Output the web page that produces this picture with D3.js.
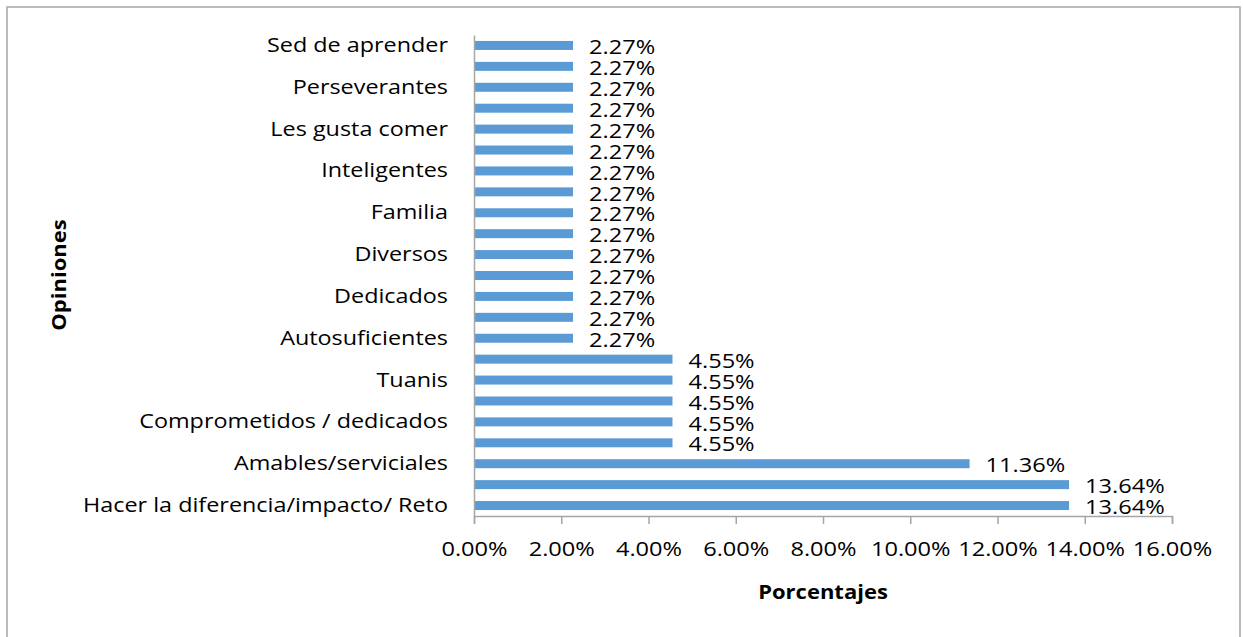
<!DOCTYPE html>
<html>
<head>
<meta charset="utf-8">
<script src="https://cdn.jsdelivr.net/npm/d3@7"></script>
<style>
  html, body { margin: 0; padding: 0; background: #fff; }
  svg { display: block; }
</style>
</head>
<body>
<svg id="chart" width="1243" height="637"></svg>
<script>
// Categories listed from the bottom bar upward; blank entries are categories
// whose axis label is skipped (every other label is shown).
const categories = [
  "Hacer la diferencia/impacto/ Reto", "", "Amables/serviciales", "",
  "Comprometidos / dedicados", "", "Tuanis", "", "Autosuficientes", "",
  "Dedicados", "", "Diversos", "", "Familia", "", "Inteligentes", "",
  "Les gusta comer", "", "Perseverantes", "", "Sed de aprender"
];
// Percentage per category (same order as above)
const values = [
  13.64, 13.64, 11.36, 4.55, 4.55, 4.55, 4.55, 4.55,
  2.27, 2.27, 2.27, 2.27, 2.27, 2.27, 2.27, 2.27,
  2.27, 2.27, 2.27, 2.27, 2.27, 2.27, 2.27
];
const xTicks = [0, 2, 4, 6, 8, 10, 12, 14, 16];
const xTitle = "Porcentajes";
const yTitle = "Opiniones";

const FONT = "'Open Sans', sans-serif";
const svg = d3.select("#chart");

// widen glyphs horizontally to get a broad, Calibri-like set
function widen(sel, k) {
  sel.each(function () {
    const w = this.getComputedTextLength();
    if (w > 0) {
      d3.select(this)
        .attr("textLength", w * k)
        .attr("lengthAdjust", "spacingAndGlyphs");
    }
  });
}

// chart frame
svg.append("rect")
  .attr("x", 7).attr("y", 7).attr("width", 1233).attr("height", 640)
  .attr("fill", "#fff").attr("stroke", "#a6a6a6").attr("stroke-width", 1.5);

const plot = { left: 474, right: 1172, top: 35, bottom: 516 };

const x = d3.scaleLinear().domain([0, 16]).range([plot.left, plot.right]);
const y = d3.scaleBand()
  .domain(d3.range(categories.length))
  .range([plot.bottom, plot.top])
  .paddingInner(0.57).paddingOuter(0.285);

// bars
svg.append("g").selectAll("rect")
  .data(values)
  .join("rect")
  .attr("x", x(0))
  .attr("y", (d, i) => y(i))
  .attr("width", d => x(d) - x(0))
  .attr("height", y.bandwidth())
  .attr("fill", "#5b9bd5");

// value labels
const valueLabels = svg.append("g").selectAll("text")
  .data(values)
  .join("text")
  .attr("x", d => x(d) + 16)
  .attr("y", (d, i) => y(i) + y.bandwidth() / 2 + 1.5)
  .attr("dy", "0.35em")
  .attr("font-family", FONT)
  .attr("font-size", 20.5)
  .attr("fill", "#000")
  .text(d => d.toFixed(2) + "%");
widen(valueLabels, 1.15);

// x axis
const xAxis = d3.axisBottom(x)
  .tickValues(xTicks)
  .tickSize(8)
  .tickPadding(17)
  .tickFormat(d => d.toFixed(2) + "%");
const gx = svg.append("g")
  .attr("transform", `translate(0,${plot.bottom})`)
  .call(xAxis);
gx.select(".domain").attr("stroke", "#a6a6a6").attr("stroke-width", 1.5);
gx.selectAll(".tick line").attr("stroke", "#a6a6a6").attr("stroke-width", 1.5);
gx.selectAll(".tick text")
  .attr("font-family", FONT).attr("font-size", 20.5).attr("fill", "#000");
widen(gx.selectAll(".tick text"), 1.15);

// y axis
const yAxis = d3.axisLeft(y)
  .tickSize(0)
  .tickPadding(26)
  .tickFormat(i => categories[i]);
const gy = svg.append("g")
  .attr("transform", `translate(${plot.left},0)`)
  .call(yAxis);
gy.select(".domain").attr("stroke", "#a6a6a6").attr("stroke-width", 1.5);
gy.selectAll(".tick text")
  .attr("font-family", FONT).attr("font-size", 20.5).attr("fill", "#000");
widen(gy.selectAll(".tick text"), 1.14);

// axis titles
const xt = svg.append("text")
  .attr("x", x(8)).attr("y", 592).attr("dy", "0.35em")
  .attr("text-anchor", "middle")
  .attr("font-family", FONT).attr("font-size", 20).attr("font-weight", "bold")
  .text(xTitle);
widen(xt, 1.1);

const yt = svg.append("text")
  .attr("transform", "translate(59,275) rotate(-90)")
  .attr("dy", "0.35em")
  .attr("text-anchor", "middle")
  .attr("font-family", FONT).attr("font-size", 20).attr("font-weight", "bold")
  .text(yTitle);
widen(yt, 1.1);
</script>
</body>
</html>
